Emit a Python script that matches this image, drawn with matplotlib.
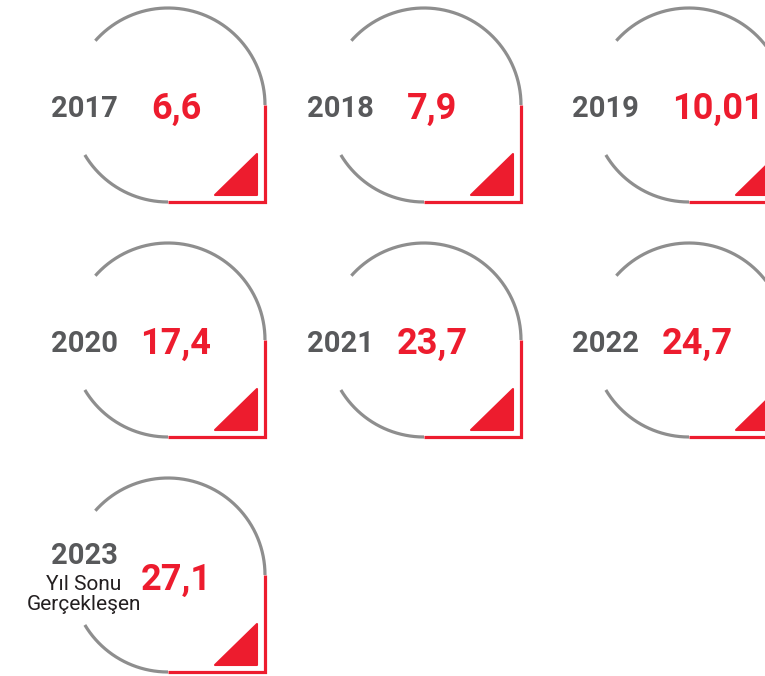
import numpy as np
import matplotlib
matplotlib.use("Agg")
import matplotlib.pyplot as plt
from matplotlib.patches import Polygon

# ---- data ----
years = ["2017", "2018", "2019", "2020", "2021", "2022", "2023"]
values = ["6,6", "7,9", "10,01", "17,4", "23,7", "24,7", "27,1"]
sublabels = [[], [], [], [], [], [], ["Yıl Sonu", "Gerçekleşen"]]

# ---- style ----
GRAY_LINE = "#8e8e8e"
GRAY_TEXT = "#58595b"
RED = "#ed1c2e"
FONT = ["Roboto", "DejaVu Sans"]

W, H = 765, 676
fig = plt.figure(figsize=(W / 100, H / 100), dpi=100)
ax = fig.add_axes([0, 0, 1, 1])
ax.set_xlim(0, W)
ax.set_ylim(H, 0)
ax.set_aspect("equal")
ax.axis("off")

col_off = [0, 256, 521]
row_off = [0, 235, 470]
cx0, cy0, r = 168, 105, 97
lw = 2.3

fig.canvas.draw()
renderer = fig.canvas.get_renderer()

for i, (yr, val, sub) in enumerate(zip(years, values, sublabels)):
    ox = col_off[i % 3]
    oy = row_off[i // 3]
    cx, cy = cx0 + ox, cy0 + oy
    # gray arcs
    for t1, t2 in [(0, 138.5), (211, 270)]:
        th = np.radians(np.linspace(t1, t2, 200))
        ax.plot(cx + r * np.cos(th), cy - r * np.sin(th), color=GRAY_LINE,
                lw=lw, solid_capstyle="butt")
    # red square corner
    ax.plot([cx + r, cx + r, cx], [cy, cy + r, cy + r], color=RED, lw=lw,
            solid_joinstyle="miter", solid_capstyle="butt")
    # red triangle
    tri = Polygon([[cx + 89.5, cy + 48.5], [cx + 89.5, cy + 89.5], [cx + 47.5, cy + 89.5]],
                  closed=True, facecolor=RED, edgecolor=RED, lw=1.5, joinstyle="round")
    ax.add_patch(tri)

    # texts
    if sub:
        ax.text(ox + 84, oy + 93.5, yr, ha="center", va="baseline", fontsize=21,
                fontweight="bold", color=GRAY_TEXT, family=FONT)
        for k, line in enumerate(sub):
            ax.text(ox + 83.5, oy + 120 + 19.5 * k, line, ha="center", va="baseline",
                    fontsize=15, color="#231f20", family=FONT)
    else:
        ax.text(ox + 84.5, oy + 117, yr, ha="center", va="baseline", fontsize=21,
                fontweight="bold", color=GRAY_TEXT, family=FONT)
    vy = oy + (120 if sub else 119)
    t = ax.text(ox + 176, vy, val, ha="center", va="baseline", fontsize=26,
                fontweight="bold", color=RED, family=FONT)
    bb = t.get_window_extent(renderer=renderer)
    left = ax.transData.inverted().transform((bb.x0, bb.y0))[0]
    if left < ox + 136:
        t.set_ha("left")
        t.set_x(ox + 151)

fig.savefig("out.png", dpi=100)
